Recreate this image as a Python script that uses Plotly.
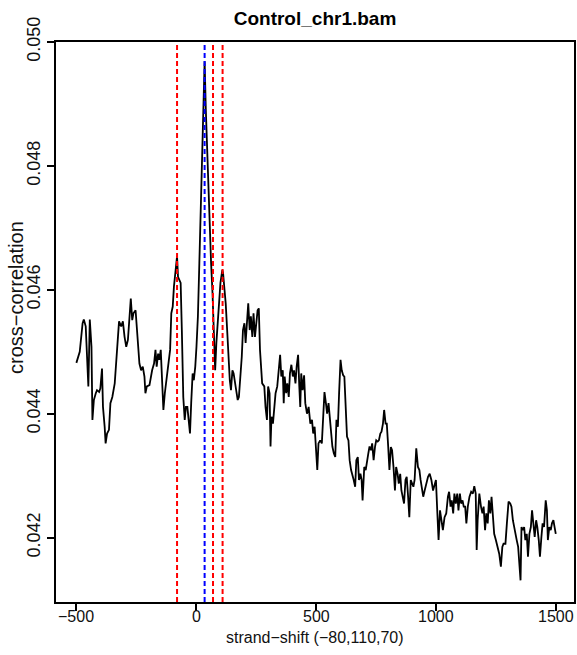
import plotly.graph_objects as go

# Strand cross-correlation profile for Control_chr1.bam
shift = [
    -500, -486, -474, -469, -461, -455, -450, -444, -437, -433, -427, -419, -414, -405, -400,
    -393, -389, -382, -378, -372, -364, -358, -350, -340, -333, -327, -322, -313, -306, -299,
    -292, -285, -278, -273, -267, -262, -253, -248, -242, -237, -230, -223, -216, -212, -206,
    -195, -184, -176, -170, -165, -159, -154, -148, -142, -137, -131, -126, -118, -109, -104,
    -98, -93, -87, -80, -76, -71, -65, -60, -54, -48, -43, -37, -32, -26, -21,
    -15, -10, -4, 1, 7, 13, 18, 24, 29, 35, 40, 46, 51, 57, 62,
    68, 73, 79, 84, 90, 95, 101, 109, 112, 118, 123, 129, 134, 140, 145,
    151, 156, 162, 167, 173, 178, 184, 190, 195, 201, 206, 212, 217, 223, 228,
    234, 239, 245, 250, 256, 261, 266, 275, 284, 289, 295, 300, 306, 310, 314,
    320, 325, 331, 338, 344, 350, 355, 361, 365, 369, 375, 380, 386, 391, 397,
    403, 408, 414, 419, 425, 430, 434, 438, 444, 450, 455, 462, 469, 476, 483,
    488, 494, 499, 505, 510, 517, 524, 530, 535, 541, 546, 552, 557, 563, 568,
    574, 580, 585, 591, 596, 602, 607, 613, 618, 624, 629, 635, 640, 646, 651,
    657, 663, 668, 674, 679, 685, 690, 694, 701, 707, 712, 718, 723, 729, 734,
    740, 746, 751, 757, 762, 768, 773, 779, 784, 790, 795, 801, 806, 812, 817,
    823, 829, 834, 840, 845, 851, 856, 862, 867, 873, 878, 884, 889, 895, 900,
    906, 911, 918, 925, 931, 936, 942, 947, 953, 960, 967, 974, 981, 988, 994,
    1000, 1006, 1011, 1017, 1022, 1029, 1036, 1043, 1050, 1055, 1061, 1066, 1072, 1077, 1083,
    1089, 1094, 1100, 1105, 1111, 1116, 1122, 1127, 1133, 1140, 1147, 1154, 1160, 1166, 1170,
    1174, 1181, 1188, 1194, 1199, 1205, 1210, 1216, 1221, 1227, 1232, 1238, 1243, 1250, 1257,
    1264, 1271, 1277, 1282, 1290, 1296, 1303, 1310, 1315, 1321, 1326, 1332, 1337, 1343, 1348,
    1353, 1357, 1362, 1368, 1373, 1379, 1384, 1390, 1396, 1401, 1407, 1412, 1418, 1423, 1429,
    1434, 1440, 1445, 1451, 1458, 1463, 1467, 1473, 1479, 1484, 1490, 1495, 1500,
]

cross_correlation = [
    0.04482, 0.04500, 0.04546, 0.04552, 0.04541, 0.04492, 0.04444, 0.04552, 0.04508, 0.04390,
    0.04422, 0.04433, 0.04438, 0.04435, 0.04441, 0.04473, 0.04411, 0.04379, 0.04352, 0.04368,
    0.04374, 0.04417, 0.04427, 0.04449, 0.04487, 0.04530, 0.04549, 0.04541, 0.04549, 0.04524,
    0.04508, 0.04519, 0.04557, 0.04586, 0.04551, 0.04562, 0.04567, 0.04535, 0.04514, 0.04481,
    0.04470, 0.04476, 0.04460, 0.04433, 0.04444,
    0.04446, 0.04470, 0.04481, 0.04503, 0.04476, 0.04497, 0.04487, 0.04503, 0.04460, 0.04406,
    0.04433, 0.04449, 0.04470, 0.04503, 0.04562, 0.04573, 0.04605, 0.04632, 0.04654, 0.04621,
    0.04616, 0.04611, 0.04535, 0.04427, 0.04390, 0.04411, 0.04411, 0.04384, 0.04368, 0.04417,
    0.04465, 0.04454, 0.04476, 0.04508, 0.04557, 0.04643, 0.04724, 0.04804, 0.04901, 0.04969,
    0.04891, 0.04821, 0.04751, 0.04697, 0.04643, 0.04594, 0.04535, 0.04470, 0.04514, 0.04546,
    0.04573, 0.04611, 0.04632, 0.04627, 0.04600, 0.04578, 0.04535, 0.04497, 0.04454, 0.04438,
    0.04470, 0.04465, 0.04449, 0.04433, 0.04422, 0.04427, 0.04454, 0.04492, 0.04535, 0.04546,
    0.04514, 0.04562, 0.04578, 0.04535, 0.04557, 0.04524, 0.04562, 0.04524, 0.04546, 0.04567,
    0.04570, 0.04503, 0.04449, 0.04444, 0.04411, 0.04390, 0.04444, 0.04433, 0.04347, 0.04395,
    0.04384, 0.04406, 0.04433, 0.04444, 0.04470, 0.04495, 0.04460, 0.04470, 0.04417, 0.04460,
    0.04433, 0.04449, 0.04427, 0.04465, 0.04479, 0.04460, 0.04470, 0.04449, 0.04476, 0.04495,
    0.04444, 0.04411, 0.04465, 0.04438, 0.04462, 0.04417, 0.04400, 0.04411, 0.04384, 0.04390,
    0.04368, 0.04379, 0.04347, 0.04309, 0.04352, 0.04357, 0.04352, 0.04400, 0.04435, 0.04417,
    0.04400, 0.04417, 0.04395, 0.04368, 0.04347, 0.04336, 0.04330, 0.04390, 0.04379, 0.04433,
    0.04487, 0.04470, 0.04462, 0.04460, 0.04406, 0.04363, 0.04357, 0.04325, 0.04309, 0.04303,
    0.04293, 0.04282, 0.04325, 0.04330, 0.04293, 0.04303, 0.04293, 0.04260, 0.04314, 0.04309,
    0.04325, 0.04336, 0.04347, 0.04341, 0.04352, 0.04325, 0.04347, 0.04357, 0.04355, 0.04357,
    0.04368, 0.04371, 0.04384, 0.04406,
    0.04384, 0.04384, 0.04346, 0.04309, 0.04346, 0.04341, 0.04314, 0.04276, 0.04314, 0.04303,
    0.04287, 0.04303, 0.04276, 0.04266, 0.04255, 0.04293, 0.04298, 0.04266, 0.04233, 0.04293,
    0.04287, 0.04282, 0.04293, 0.04344, 0.04314, 0.04309, 0.04293, 0.04276, 0.04266, 0.04276,
    0.04287, 0.04298, 0.04303, 0.04293, 0.04276, 0.04287, 0.04293, 0.04239, 0.04196, 0.04244,
    0.04228, 0.04212, 0.04233, 0.04239, 0.04266, 0.04274, 0.04250, 0.04260, 0.04239, 0.04271,
    0.04255, 0.04271, 0.04244, 0.04271, 0.04255, 0.04260, 0.04250, 0.04250, 0.04223, 0.04250,
    0.04266, 0.04274, 0.04271, 0.04283, 0.04271, 0.04180, 0.04228, 0.04271, 0.04250, 0.04239,
    0.04250, 0.04212, 0.04239, 0.04223, 0.04260, 0.04239, 0.04266, 0.04228, 0.04206, 0.04196,
    0.04185, 0.04174, 0.04153, 0.04185, 0.04190, 0.04190, 0.04223, 0.04258, 0.04255, 0.04250,
    0.04228, 0.04217, 0.04201, 0.04196, 0.04185, 0.04163, 0.04131, 0.04217, 0.04212, 0.04217,
    0.04196, 0.04206, 0.04169, 0.04206, 0.04217, 0.04244, 0.04223, 0.04201, 0.04228, 0.04217,
    0.04196, 0.04169, 0.04201, 0.04223, 0.04217, 0.04260, 0.04244, 0.04196, 0.04217, 0.04212,
    0.04223, 0.04228, 0.04217, 0.04206,
]

# Marked shifts: cross-correlation peaks (red) and read length / phantom peak (blue)
peak_shifts = [-80, 110, 70]
read_length = [35]

x_ticks = [-500, 0, 500, 1000, 1500]
y_ticks = [0.042, 0.044, 0.046, 0.048, 0.050]
y_tick_text = ["0.042", "0.044", "0.046", "0.048", "0.050"]

FONT = "Liberation Sans, Arial, Helvetica, sans-serif"
INK = "#111111"


def minus(v):
    return str(v).replace("-", "\u2212")


fig = go.Figure()
fig.add_trace(go.Scatter(
    x=shift, y=cross_correlation, mode="lines",
    line=dict(color="black", width=1.8), hoverinfo="skip", showlegend=False,
))

shapes = []
for v in peak_shifts:
    shapes.append(dict(type="line", xref="x", yref="paper", x0=v, x1=v, y0=0, y1=1,
                       line=dict(color="#ff0000", width=2, dash="5px,3px")))
for v in read_length:
    shapes.append(dict(type="line", xref="x", yref="paper", x0=v, x1=v, y0=0, y1=1,
                       line=dict(color="#0000ff", width=2, dash="5px,3px")))

xlabel = "strand\u2212shift (" + ",".join(minus(p) for p in peak_shifts) + ")"

# x tick labels sit close under the tick marks, R style
annotations = [
    dict(text=minus(v), xref="x", yref="paper", x=v, y=0, xanchor="center",
         yanchor="middle", yshift=-14, showarrow=False,
         font=dict(family=FONT, size=16, color=INK))
    for v in x_ticks
]
annotations += [
    dict(text=xlabel, xref="paper", yref="paper", x=0.5, y=0, xanchor="center",
         yanchor="middle", yshift=-35, showarrow=False,
         font=dict(family=FONT, size=16, color=INK)),
    dict(text="cross\u2212correlation", xref="paper", yref="paper", x=0, y=0.5,
         xanchor="center", yanchor="middle", xshift=-40, yshift=24, textangle=-90,
         showarrow=False, font=dict(family=FONT, size=20, color=INK)),
]

fig.update_layout(
    width=577, height=655,
    margin=dict(l=56, r=1, t=42, b=53),
    paper_bgcolor="white", plot_bgcolor="white",
    font=dict(family=FONT, color=INK),
    shapes=shapes,
    title=dict(text="<b>Control_chr1.bam</b>", x=0.5, xref="paper", xanchor="center",
               y=1 - 18 / 655, yref="container", yanchor="middle",
               font=dict(family=FONT, size=19, color="black")),
    xaxis=dict(range=[-585, 1576], tickvals=x_ticks, ticks="outside", ticklen=7,
               tickwidth=1.5, tickcolor="black", showline=True, mirror=True,
               linecolor="black", linewidth=1.5, showgrid=False, zeroline=False,
               showticklabels=False),
    yaxis=dict(range=[0.04096, 0.0500], tickvals=y_ticks, ticktext=y_tick_text,
               tickangle=-90, ticks="outside", ticklen=7, tickwidth=1.5,
               tickcolor="black", showline=True, mirror=True, linecolor="black",
               linewidth=1.5, showgrid=False, zeroline=False,
               tickfont=dict(family=FONT, size=18, color=INK)),
    annotations=annotations,
)

fig.write_html("out.html")
